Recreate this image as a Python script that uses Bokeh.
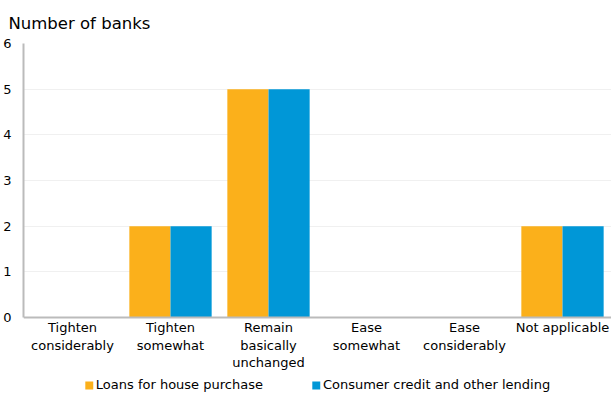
from bokeh.plotting import figure
from bokeh.models import FactorRange, Legend, LegendItem, FixedTicker, ColumnDataSource, Span
from bokeh.transform import dodge
from bokeh.core.properties import value
from bokeh.embed import file_html
from bokeh.resources import INLINE

categories = ["Tighten\nconsiderably", "Tighten\nsomewhat", "Remain\nbasically\nunchanged",
              "Ease\nsomewhat", "Ease\nconsiderably", "Not applicable"]
house = [0, 2, 5, 0, 0, 2]
consumer = [0, 2, 5, 0, 0, 2]
series_names = ["Loans for house purchase", "Consumer credit and other lending"]
y_ticks = [0, 1, 2, 3, 4, 5, 6]

FONT = "DejaVu Sans"
ORANGE = "#FBB01B"
BLUE = "#0097D7"

src = ColumnDataSource(dict(cat=categories, house=house, consumer=consumer,
                            zero=[0] * len(categories)))

p = figure(width=611, height=396, x_range=FactorRange(factors=categories), y_range=(-1.73, 6),
           x_axis_location=None, output_backend="svg", toolbar_location=None,
           min_border_left=22, min_border_right=0, min_border_top=43, min_border_bottom=0)

r1 = p.vbar(x=dodge("cat", -0.21, range=p.x_range), top="house", width=0.42, source=src,
            fill_color=ORANGE, line_color=None)
r2 = p.vbar(x=dodge("cat", 0.21, range=p.x_range), top="consumer", width=0.42, source=src,
            fill_color=BLUE, line_color=None)

# category labels under the baseline
p.text(x="cat", y="zero", text="cat", source=src, text_font=value(FONT),
       text_font_size=value("13px"), text_color="#000000", text_align="center",
       text_baseline="top", text_line_height=1.15, y_offset=3)

p.title.text = "Number of banks"
p.title.text_font = FONT
p.title.text_font_size = "16.5px"
p.title.text_font_style = "normal"
p.title.text_color = "#000000"
p.title.align = "left"
p.title.offset = -15
p.title.standoff = 21

p.outline_line_color = None
p.xgrid.grid_line_color = None
p.ygrid.grid_line_color = "#f0f0f0"
p.ygrid.ticker = FixedTicker(ticks=y_ticks)

p.yaxis.ticker = FixedTicker(ticks=y_ticks)
p.yaxis.bounds = (0, 6)
p.yaxis.major_tick_line_color = None
p.yaxis.minor_tick_line_color = None
p.yaxis.axis_line_color = "#bbbbbb"
p.yaxis.axis_line_width = 2
p.yaxis.major_label_text_font = FONT
p.yaxis.major_label_text_font_size = "13px"
p.yaxis.major_label_text_color = "#000000"
p.yaxis.major_label_standoff = 6

p.add_layout(Span(location=0, dimension="width", line_color="#bbbbbb", line_width=2))

legend = Legend(items=[LegendItem(label=series_names[0], renderers=[r1]),
                       LegendItem(label=series_names[1], renderers=[r2])],
                orientation="horizontal", location="bottom_center",
                glyph_width=10, glyph_height=10, label_standoff=2, spacing=48,
                padding=0, margin=4, border_line_color=None, background_fill_alpha=0,
                label_text_font=FONT, label_text_font_size="13px", label_text_color="#000000")
p.add_layout(legend, "center")

open("out.html", "w").write(file_html(p, INLINE))
